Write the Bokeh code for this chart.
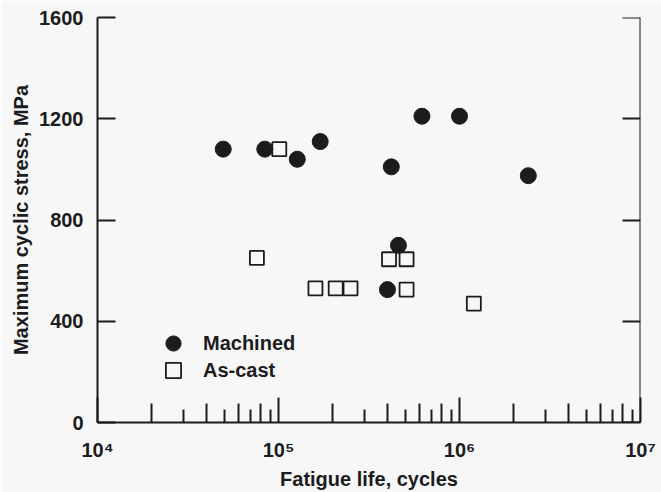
from bokeh.plotting import figure
from bokeh.models import Range1d, LogAxis, LinearAxis, FixedTicker, Legend, LegendItem
from bokeh.embed import file_html
from bokeh.resources import INLINE

# ---- data ----
machined_life = [4.95e4, 8.4e4, 1.27e5, 1.7e5, 4.2e5, 6.2e5, 1.0e6, 2.4e6, 4.6e5, 4.0e5]
machined_stress = [1080, 1080, 1040, 1110, 1010, 1210, 1210, 975, 700, 525]
ascast_life = [1.01e5, 7.6e4, 1.6e5, 2.07e5, 2.5e5, 4.08e5, 5.1e5, 5.1e5, 1.2e6]
ascast_stress = [1080, 650, 530, 530, 530, 645, 645, 525, 470]

x_major = [10**4, 10**5, 10**6, 10**7]
x_labels = ["10\u2074", "10\u2075", "10\u2076", "10\u2077"]
y_ticks = [0, 400, 800, 1200, 1600]
x_title = "Fatigue life, cycles"
y_title = "Maximum cyclic stress, MPa"
series_names = ["Machined", "As-cast"]

decades = [10**4, 10**5, 10**6]
x_even = [m * d for d in decades for m in (2, 4, 6, 8)]
x_odd = [m * d for d in decades for m in (3, 5, 7, 9)]

BG = "#f7f7f7"
INK = "#1c1c1e"
FONT = "Liberation Sans"

p = figure(width=661, height=492, x_axis_type="log",
           x_range=Range1d(1e4, 1e7), y_range=Range1d(0, 1600),
           output_backend="svg", toolbar_location=None,
           min_border_left=97, min_border_right=21, min_border_top=17, min_border_bottom=70,
           background_fill_color=BG, border_fill_color=BG)
p.outline_line_color = None
p.grid.visible = False

def style_axis(ax):
    ax.axis_line_color = INK
    ax.axis_line_width = 2
    ax.major_tick_line_color = INK
    ax.major_tick_line_width = 2
    ax.minor_tick_line_color = INK
    ax.minor_tick_line_width = 2
    ax.major_tick_out = 0
    ax.minor_tick_out = 0
    ax.major_label_text_font = FONT
    ax.major_label_text_font_style = "bold"
    ax.major_label_text_font_size = "20px"
    ax.major_label_text_color = INK
    ax.axis_label_text_font = FONT
    ax.axis_label_text_font_style = "bold"
    ax.axis_label_text_font_size = "20px"
    ax.axis_label_text_color = INK

xa = p.xaxis[0]
style_axis(xa)
xa.ticker = FixedTicker(ticks=x_major, minor_ticks=x_even)
xa.major_label_overrides = dict(zip(x_major, x_labels))
xa.major_tick_in = 25
xa.minor_tick_in = 19
xa.major_label_standoff = 16
xa.axis_label = x_title
xa.axis_label_standoff = 4

ya = p.yaxis[0]
style_axis(ya)
ya.ticker = FixedTicker(ticks=y_ticks)
ya.major_tick_in = 18
ya.minor_tick_in = 0
ya.major_label_standoff = 14
ya.axis_label = y_title
ya.axis_label_standoff = 4

# shorter bottom ticks at 3,5,7,9 (minor ticks only, so no labels)
xo = LogAxis(ticker=FixedTicker(ticks=[], minor_ticks=x_odd), fixed_location=0)
style_axis(xo)
xo.axis_line_color = None
xo.major_tick_in = 0
xo.minor_tick_in = 13
p.add_layout(xo, "below")

# right axis with inward ticks, no labels
yr = LinearAxis(ticker=FixedTicker(ticks=[], minor_ticks=y_ticks), fixed_location=1e7)
style_axis(yr)
yr.major_tick_in = 0
yr.minor_tick_in = 18
p.add_layout(yr, "right")

r_sq = p.scatter(ascast_life, ascast_stress, marker="square", size=14,
                 fill_color=BG, line_color=INK, line_width=1.8)
r_circ = p.scatter(machined_life, machined_stress, marker="circle", size=16,
                   fill_color=INK, line_color=INK)

def make_legend(label, renderer, loc):
    return Legend(items=[LegendItem(label=label, renderers=[renderer])],
                  location=loc, glyph_width=38, glyph_height=38,
                  padding=0, margin=0, label_standoff=11,
                  background_fill_alpha=0, border_line_alpha=0,
                  label_text_font=FONT, label_text_font_style="bold",
                  label_text_font_size="20px", label_text_color=INK)

p.add_layout(make_legend(series_names[0], r_circ, (57, 60)))
p.add_layout(make_legend(series_names[1], r_sq, (57, 33)))

open("out.html", "w").write(file_html(p, INLINE))
